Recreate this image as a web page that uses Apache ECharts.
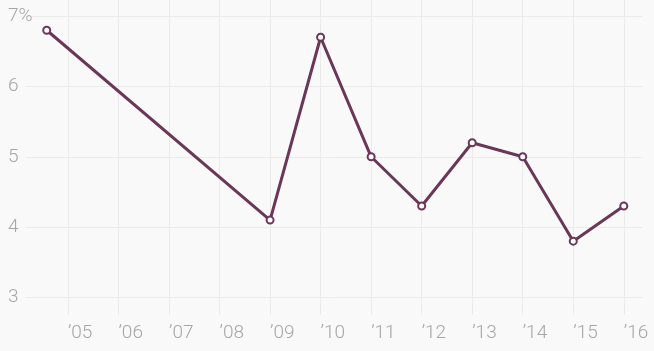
<!DOCTYPE html>
<html>
<head>
<meta charset="utf-8">
<script src="https://cdn.jsdelivr.net/npm/echarts@6/dist/echarts.min.js"></script>
<style>
html,body{margin:0;padding:0;background:#f9f9f9;}
#c{width:654px;height:351px;}
</style>
</head>
<body>
<div id="c"></div>
<script>
// Data
const years = [2004.58, 2009, 2010, 2011, 2012, 2013, 2014, 2015, 2016];
const values = [6.8, 4.1, 6.7, 5.0, 4.3, 5.2, 5.0, 3.8, 4.3];
const yTicks = [3, 4, 5, 6, 7];
const xTicks = [2005, 2006, 2007, 2008, 2009, 2010, 2011, 2012, 2013, 2014, 2015, 2016];

const isInt = v => Math.abs(v - Math.round(v)) < 1e-6;
const chart = echarts.init(document.getElementById('c'), null, {renderer: 'canvas'});
chart.setOption({
  backgroundColor: '#f9f9f9',
  animation: false,
  grid: {left: 26, right: 11, top: 0, bottom: 36, containLabel: false},
  xAxis: {
    type: 'value',
    min: 2004.17, max: 2016.38,
    minInterval: 1, maxInterval: 1,
    axisLine: {show: false}, axisTick: {show: false},
    splitLine: {show: true, showMinLine: false, showMaxLine: false, lineStyle: {color: '#ebebeb', width: 1}},
    axisLabel: {
      align: 'left', margin: 9,
      color: '#a6a6a6', fontFamily: 'Roboto', fontWeight: 300, fontSize: 19,
      showMinLabel: false, showMaxLabel: false,
      formatter: v => (isInt(v) && xTicks.indexOf(Math.round(v)) >= 0) ? '\u2019' + String(Math.round(v)).slice(2) : ''
    }
  },
  yAxis: {
    type: 'value',
    min: 2.75, max: 7.23,
    minInterval: 1, maxInterval: 1,
    axisLine: {show: false}, axisTick: {show: false},
    splitLine: {show: true, showMinLine: false, showMaxLine: false, lineStyle: {color: '#ebebeb', width: 1}},
    axisLabel: {
      align: 'left', margin: 18,
      color: '#a6a6a6', fontFamily: 'Roboto', fontWeight: 300, fontSize: 19,
      showMinLabel: false, showMaxLabel: false,
      formatter: v => {
        if (!isInt(v) || yTicks.indexOf(Math.round(v)) < 0) return '';
        const r = Math.round(v);
        return r === yTicks[yTicks.length - 1] ? r + '%' : String(r);
      }
    }
  },
  series: [{
    type: 'line',
    data: years.map((y, i) => [y, values[i]]),
    symbol: 'circle', symbolSize: 7,
    lineStyle: {color: '#6a3759', width: 3},
    itemStyle: {color: '#ffffff', borderColor: '#6a3759', borderWidth: 2},
    z: 3
  }]
});
</script>
</body>
</html>
